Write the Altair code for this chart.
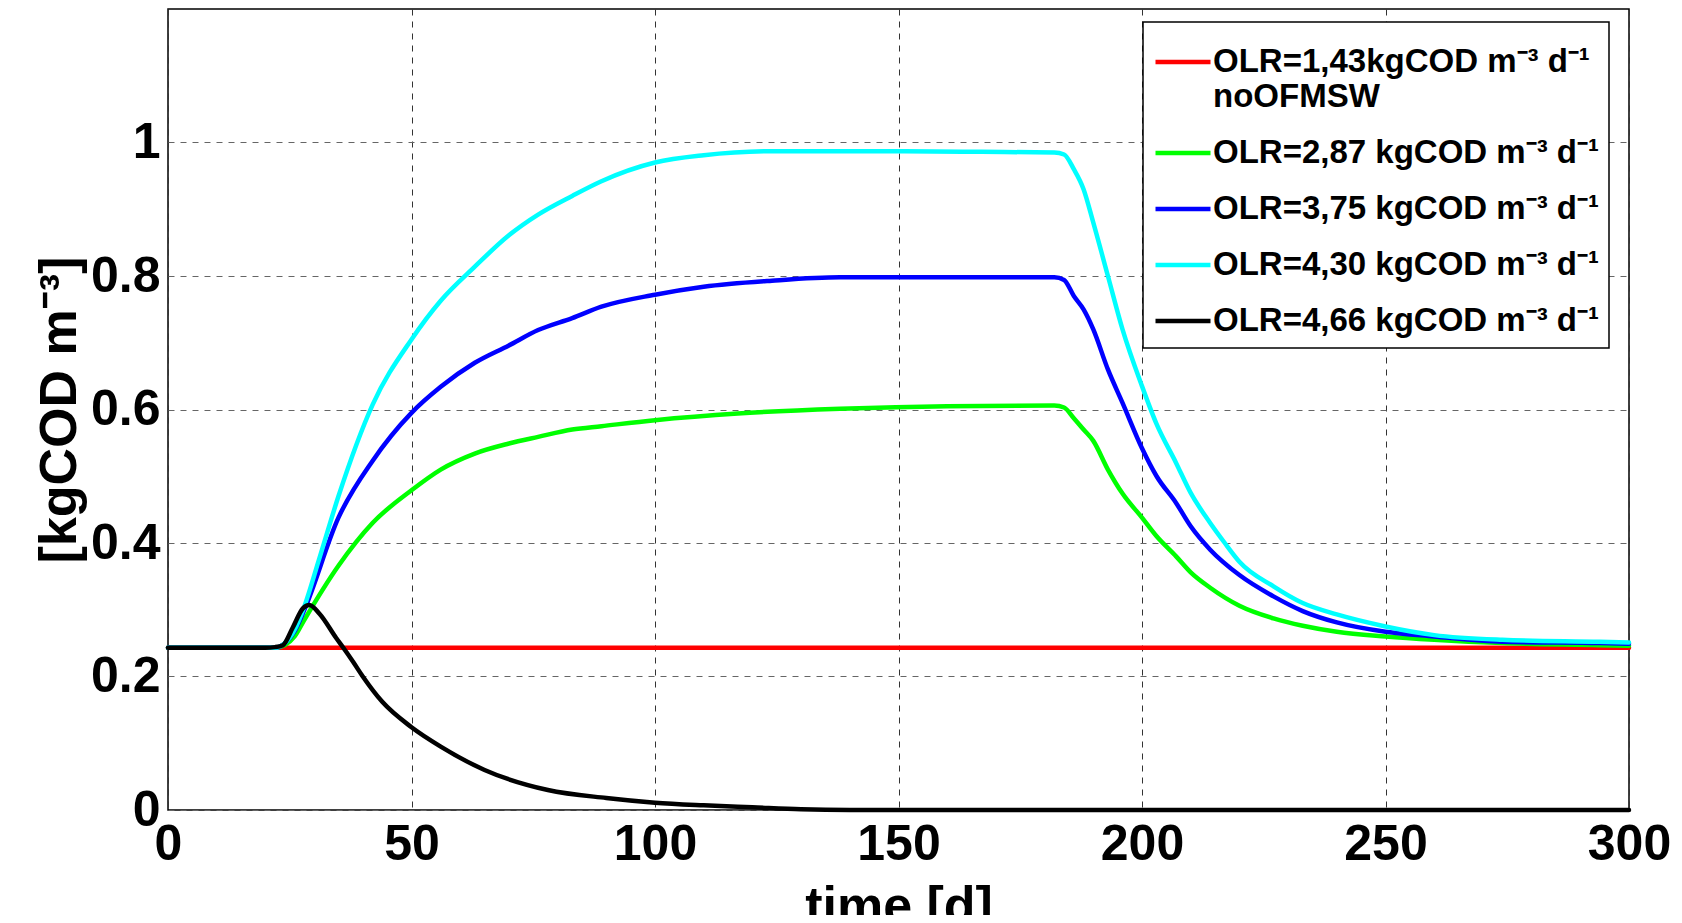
import altair as alt
import pandas as pd

series_names = [
    "OLR=1,43kgCOD m⁻³ d⁻¹|noOFMSW",
    "OLR=2,87 kgCOD m⁻³ d⁻¹",
    "OLR=3,75 kgCOD m⁻³ d⁻¹",
    "OLR=4,30 kgCOD m⁻³ d⁻¹",
    "OLR=4,66 kgCOD m⁻³ d⁻¹",
]
series_colors = ["#ff0000", "#00ff00", "#0000ff", "#00ffff", "#000000"]

red_t = [0, 300]
red_v = [0.243, 0.243]

green_t = [0, 22, 24, 26, 28, 35, 42, 50, 56, 63, 70, 76, 83, 89, 100, 117, 138, 160,
           182, 184, 186, 188, 190, 193, 196, 200, 203, 207, 210, 214, 220, 227, 233,
           240, 250, 260, 274, 294, 300]
green_v = [0.243, 0.243, 0.247, 0.26, 0.285, 0.366, 0.43, 0.479, 0.51, 0.534, 0.549,
           0.559, 0.57, 0.575, 0.584, 0.594, 0.601, 0.605, 0.606, 0.603, 0.587, 0.57,
           0.553, 0.51, 0.474, 0.438, 0.41, 0.38, 0.356, 0.333, 0.306, 0.287, 0.276,
           0.267, 0.26, 0.255, 0.25, 0.247, 0.246]

blue_t = [0, 22, 24, 26, 28, 35, 42, 50, 56, 63, 70, 76, 83, 89, 100, 110, 124, 138,
          182, 184, 186, 188, 190, 193, 196, 200, 203, 207, 210, 214, 220, 227, 233,
          240, 250, 260, 274, 294, 300]
blue_v = [0.243, 0.243, 0.25, 0.268, 0.30, 0.438, 0.523, 0.595, 0.634, 0.670, 0.696,
          0.719, 0.737, 0.754, 0.772, 0.784, 0.793, 0.798, 0.798, 0.794, 0.77, 0.75,
          0.72, 0.66, 0.61, 0.542, 0.50, 0.46, 0.425, 0.39, 0.352, 0.32, 0.298, 0.281,
          0.267, 0.26, 0.252, 0.25, 0.249]

cyan_t = [0, 22, 24, 26, 28, 31, 35, 42, 50, 56, 63, 70, 76, 83, 89, 100, 110, 124,
          150, 167, 182, 184, 186, 188, 190, 193, 196, 200, 203, 207, 210, 214, 217,
          220, 227, 233, 240, 250, 260, 274, 294, 300]
cyan_v = [0.243, 0.243, 0.25, 0.27, 0.305, 0.375, 0.47, 0.607, 0.705, 0.763, 0.814,
          0.861, 0.892, 0.92, 0.942, 0.97, 0.981, 0.987, 0.987, 0.986, 0.985, 0.982,
          0.96, 0.93, 0.88, 0.80, 0.72, 0.635, 0.578, 0.52, 0.475, 0.43, 0.40, 0.372,
          0.335, 0.31, 0.293, 0.275, 0.262, 0.255, 0.252, 0.251]

black_t = [0, 20, 22, 23.6, 25.6, 27.7, 29, 31.1, 34.5, 36, 38, 40, 44, 50, 56, 65,
           78, 90, 100, 110, 120, 130, 140, 300]
black_v = [0.243, 0.243, 0.244, 0.247, 0.273, 0.302, 0.307, 0.294, 0.258, 0.243,
           0.222, 0.2, 0.162, 0.124, 0.095, 0.06, 0.03, 0.018, 0.011, 0.007, 0.004,
           0.001, 0.0, 0.0]

x_ticks = [0, 50, 100, 150, 200, 250, 300]
y_ticks = [0, 0.2, 0.4, 0.6, 0.8, 1.0]

all_t = [red_t, green_t, blue_t, cyan_t, black_t]
all_v = [red_v, green_v, blue_v, cyan_v, black_v]

rows = []
for name, ts, vs in zip(series_names, all_t, all_v):
    for i, (t, v) in enumerate(zip(ts, vs)):
        rows.append({"series": name, "t": t, "v": v, "i": i})
df = pd.DataFrame(rows)

FONT = "Liberation Sans"

chart = alt.Chart(df).mark_line(
    strokeWidth=4.5, strokeJoin="round", strokeCap="round", interpolate="monotone"
).encode(
    x=alt.X("t:Q", scale=alt.Scale(domain=[0, 300], nice=False),
            axis=alt.Axis(values=x_ticks, title="time [d]", labelPadding=9,
                          titlePadding=12, labelFlush=False, labelOverlap=False,
                          gridColor="#333333")),
    y=alt.Y("v:Q", scale=alt.Scale(domain=[0, 1.2], nice=False),
            axis=alt.Axis(values=y_ticks, format="~g", title="[kgCOD m⁻³]",
                          labelPadding=8, titlePadding=4, labelOverlap=False,
                          labelFlush=False, gridColor="#666666")),
    color=alt.Color("series:N",
                    scale=alt.Scale(domain=series_names, range=series_colors),
                    legend=alt.Legend(
                        title=None, orient="none", legendX=975, legendY=13,
                        labelExpr="split(datum.label, '|')",
                        symbolType="stroke", symbolSize=3025, symbolStrokeWidth=4.5,
                        labelFont=FONT, labelFontWeight="bold", labelFontSize=33,
                        labelLimit=700, labelOffset=0,
                        labelColor="black",
                        strokeColor="black", fillColor="white", padding=10,
                        rowPadding=9, cornerRadius=0)),
    order="i:Q",
).properties(
    width=1461, height=801,
    autosize=alt.AutoSizeParams(type="none"),
    padding={"left": 160, "top": 1, "right": 45, "bottom": 105},
).configure_view(
    stroke="black", strokeWidth=1.5
).configure_axis(
    labelFont=FONT, labelFontWeight="bold", labelFontSize=50, labelColor="black",
    titleFont=FONT, titleFontWeight="bold", titleFontSize=52, titleColor="black",
    ticks=False, domain=False, grid=True, gridDash=[6, 6], gridWidth=1,
).configure_legend(
    strokeWidth=1.5
)

chart.save("out.html", embed_options={"renderer": "svg", "actions": False})
